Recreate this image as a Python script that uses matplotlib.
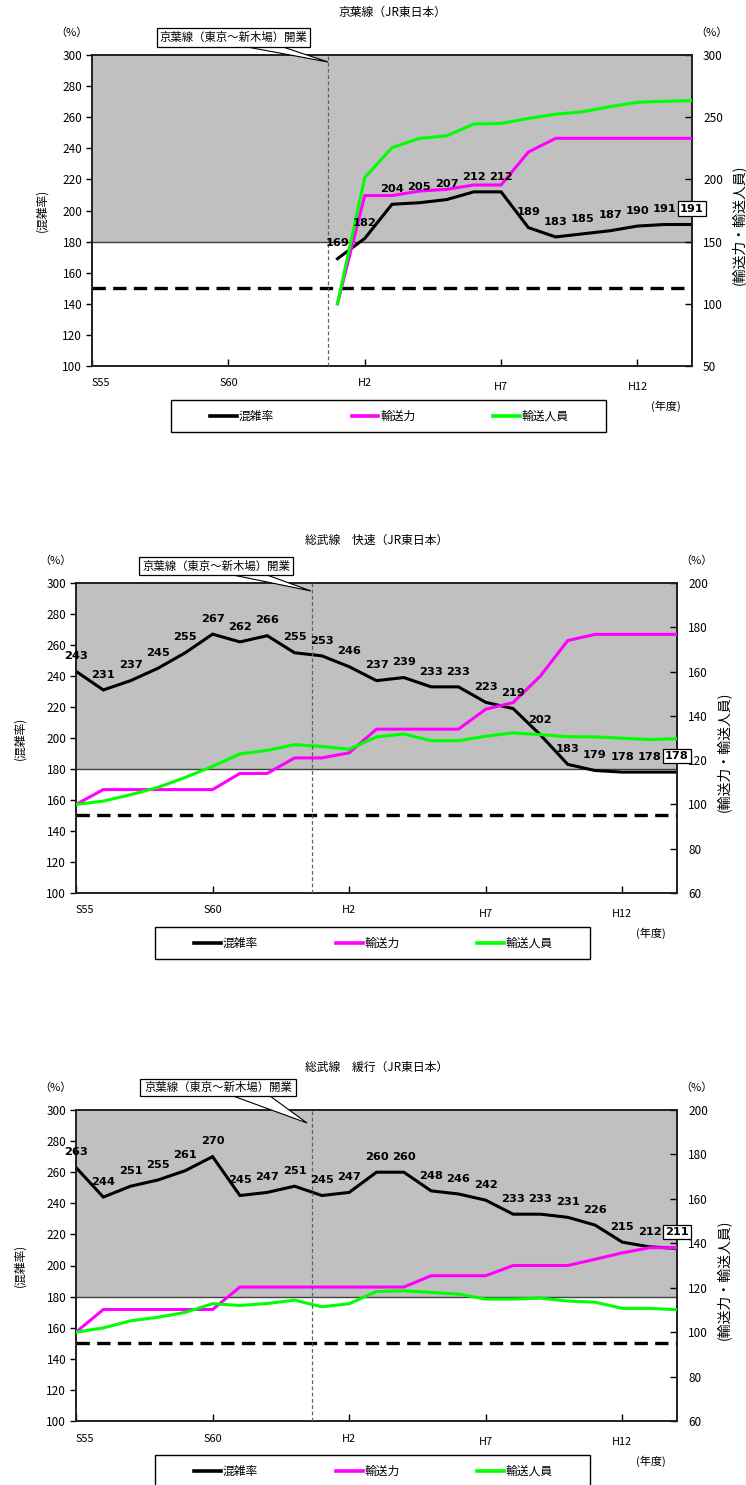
import matplotlib
matplotlib.use("Agg")
import matplotlib.pyplot as plt
from matplotlib.patches import Rectangle, Polygon
from matplotlib.lines import Line2D

plt.rcParams['font.family'] = ['Noto Sans CJK JP', 'DejaVu Sans']

NAN = float('nan')

# ---- data -------------------------------------------------------------
fiscal_years = ['S55', 'S56', 'S57', 'S58', 'S59', 'S60', 'S61', 'S62', 'S63',
                'H1', 'H2', 'H3', 'H4', 'H5', 'H6', 'H7', 'H8', 'H9', 'H10',
                'H11', 'H12', 'H13', 'H14']
shown_years = ['S55', 'S60', 'H2', 'H7', 'H12']
lowered_years = ['H7', 'H12']

series_names = ['混雑率', '輸送力', '輸送人員']
series_colors = ['#000000', '#ff00ff', '#00ff00']

event_label = '京葉線（東京～新木場）開業'
event_x = 8.65

# 京葉線
keiyo_title = '京葉線（JR東日本）'
keiyo_congestion = [NAN] * 9 + [169, 182, 204, 205, 207, 212, 212, 189, 183,
                                185, 187, 190, 191, 191]
keiyo_capacity = [NAN] * 9 + [100, 187, 187, 190.6, 192, 195.5, 195.5, 222,
                              233, 233, 233, 233, 233, 233]
keiyo_riders = [NAN] * 9 + [100, 201.4, 225.5, 233, 235, 244.5, 245, 249,
                            252.4, 254.4, 258.5, 262, 262.8, 263.3]

# 総武線 快速
rapid_title = '総武線　快速（JR東日本）'
rapid_congestion = [243, 231, 237, 245, 255, 267, 262, 266, 255, 253, 246, 237,
                    239, 233, 233, 223, 219, 202, 183, 179, 178, 178, 178]
rapid_capacity = [100, 106.7, 106.7, 106.7, 106.7, 106.7, 114, 114, 121, 121,
                  123.3, 134, 134, 134, 134, 143, 146, 158, 174, 176.8, 176.8,
                  176.8, 176.8]
rapid_riders = [100, 101.5, 104.4, 107.7, 112.2, 117.2, 122.8, 124.4, 127,
                126.2, 124.9, 130.5, 131.8, 128.8, 128.8, 130.8, 132.3, 131.5,
                130.6, 130.5, 129.9, 129.3, 129.7]

# 総武線 緩行
local_title = '総武線　緩行（JR東日本）'
local_congestion = [263, 244, 251, 255, 261, 270, 245, 247, 251, 245, 247, 260,
                    260, 248, 246, 242, 233, 233, 231, 226, 215, 212, 211]
local_capacity = [100, 110.2, 110.2, 110.2, 110.2, 110.2, 120.3, 120.3, 120.3,
                  120.3, 120.3, 120.3, 120.3, 125.4, 125.4, 125.4, 130, 130,
                  130, 132.8, 135.7, 138, 138]
local_riders = [100, 101.9, 105.1, 106.7, 108.9, 112.8, 112, 112.9, 114.4,
                111.4, 112.8, 118.3, 118.6, 117.9, 117.1, 114.9, 114.9, 115.3,
                114, 113.5, 110.7, 110.7, 110.1]

left_range = (100, 300, 20)
keiyo_right_range = (50, 300, 50)
sobu_right_range = (60, 200, 20)
band_floor = 180
guide_level = 150

# ---- figure -----------------------------------------------------------
W, H = 746, 1485
fig = plt.figure(figsize=(W / 100, H / 100), dpi=100)
fig.patch.set_facecolor('white')


def fx(x):
    return x / W


def fy(y):
    return 1 - y / H


def draw_panel(rect, title, congestion, capacity, riders, right_range,
               callout, ylabel_left_x):
    l, t, r, b = rect
    ax = fig.add_axes([fx(l), fy(b), (r - l) / W, (b - t) / H])
    n = len(fiscal_years)
    xs = list(range(n))
    ax.set_xlim(0, n - 1)
    ax.set_ylim(left_range[0], left_range[1])
    ax.axhspan(band_floor, left_range[1], color='#c0c0c0', lw=0, zorder=0)
    ax.axhline(band_floor, color='#404040', lw=1.0, zorder=1)
    ax.axhline(guide_level, color='black', lw=2.4, ls=(0, (4.0, 2.2)), zorder=2)
    ax.plot(xs, congestion, color=series_colors[0], lw=2.2, zorder=3,
            solid_joinstyle='miter')

    ax2 = ax.twinx()
    ax2.set_ylim(right_range[0], right_range[1])
    ax2.plot(xs, capacity, color=series_colors[1], lw=2.2, zorder=3,
             solid_joinstyle='miter')
    ax2.plot(xs, riders, color=series_colors[2], lw=2.2, zorder=4,
             solid_joinstyle='miter')
    ax2.axvline(event_x, color='#606060', lw=0.9, ls=(0, (3, 2)), zorder=5)

    # value labels for 混雑率
    valid = [i for i, v in enumerate(congestion) if v == v]
    for i in valid:
        v = congestion[i]
        last = (i == valid[-1])
        kw = dict(ha='center', va='center', fontsize=8.2, fontweight='bold',
                  family='DejaVu Sans', color='black', zorder=6)
        if last:
            kw['bbox'] = dict(boxstyle='square,pad=0.18', fc='white',
                              ec='black', lw=0.9)
        ax2.annotate(f'{v:.0f}', xy=(i, v), xycoords=ax.transData,
                     xytext=(0, 11.5 if last else 11), textcoords='offset points',
                     **kw)

    # axes styling
    for a in (ax, ax2):
        for s in a.spines.values():
            s.set_color('#202020')
            s.set_linewidth(1.2)
    ax.set_yticks(range(left_range[0], left_range[1] + 1, left_range[2]))
    ax.tick_params(axis='y', direction='out', length=4, width=1, labelsize=8.5,
                   pad=3, colors='black')
    tick_pos = [fiscal_years.index(s) for s in shown_years]
    ax.set_xticks(tick_pos)
    ax.tick_params(axis='x', direction='in', length=5, width=1,
                   labelbottom=False)
    ax2.set_yticks(range(right_range[0], right_range[1] + 1, right_range[2]))
    ax2.tick_params(axis='y', direction='in', length=5, width=1, labelsize=8.5,
                    pad=8, colors='black')

    for p, s in zip(tick_pos, shown_years):
        dy = -15.0 if s in lowered_years else -12.6
        ax.annotate(s, xy=(p, 0), xycoords=('data', 'axes fraction'),
                    xytext=(0, dy), textcoords='offset points',
                    ha='left' if p == 0 else 'center', va='center',
                    fontsize=7.8)

    # titles and axis captions
    cx = (l + r) / 2
    cy = (t + b) / 2
    fig.text(fx(cx), fy(t - 43), title, ha='center', va='center', fontsize=8.5)
    fig.text(fx(l - 21), fy(t - 22), '（%）', ha='center', va='center',
             fontsize=8)
    fig.text(fx(r + 19), fy(t - 22), '（%）', ha='center', va='center',
             fontsize=8)
    fig.text(fx(ylabel_left_x), fy(cy), '(混雑率)', rotation=90,
             ha='center', va='center', fontsize=8.5)
    fig.text(fx(r + 46), fy(cy + 14), '(輸送力・輸送人員)', rotation=90,
             ha='center', va='center', fontsize=10)
    fig.text(fx(r - 26), fy(b + 40), '(年度)', ha='center', va='center',
             fontsize=8)

    # opening callout
    (bx0, by0, bx1, by1), (wx0, wx1), (tx, ty) = callout
    fig.add_artist(Polygon([(fx(wx0), fy(by1)), (fx(tx), fy(ty)),
                            (fx(wx1), fy(by1))], closed=True,
                           transform=fig.transFigure, fc='white',
                           ec='black', lw=0.8, zorder=7))
    fig.add_artist(Rectangle((fx(bx0), fy(by1)), (bx1 - bx0) / W,
                             (by1 - by0) / H, transform=fig.transFigure,
                             fc='white', ec='black', lw=0.9, zorder=8))
    fig.text(fx((bx0 + bx1) / 2), fy((by0 + by1) / 2), event_label,
             ha='center', va='center', fontsize=8.2, zorder=9)

    # legend
    lx0, lt = l + 79, b + 34
    lw_box, lh_box = 435, 32
    fig.add_artist(Rectangle((fx(lx0), fy(lt + lh_box)), lw_box / W,
                             lh_box / H, transform=fig.transFigure,
                             fill=False, ec='black', lw=1.0, zorder=7))
    ly = lt + lh_box / 2
    for k, (name, col) in enumerate(zip(series_names, series_colors)):
        x0 = lx0 + 39 + k * 141.5
        fig.add_artist(Line2D([fx(x0), fx(x0 + 27)], [fy(ly), fy(ly)],
                              transform=fig.transFigure, color=col, lw=2.6,
                              zorder=8))
        fig.text(fx(x0 + 29), fy(ly), name, ha='left', va='center',
                 fontsize=8.5)
    return ax, ax2


draw_panel((92, 55, 692, 366), keiyo_title, keiyo_congestion, keiyo_capacity,
           keiyo_riders, keiyo_right_range,
           ((157, 28, 310, 47), (247, 283), (328, 62)), 42)
draw_panel((76, 583, 677, 893), rapid_title, rapid_congestion, rapid_capacity,
           rapid_riders, sobu_right_range,
           ((139, 557, 293, 575), (233, 267), (311, 591)), 20)
draw_panel((76, 1110, 677, 1421), local_title, local_congestion,
           local_capacity, local_riders, sobu_right_range,
           ((140, 1079, 296, 1096), (233, 270), (307, 1123)), 20)

fig.savefig('out.png', dpi=100, facecolor='white')
